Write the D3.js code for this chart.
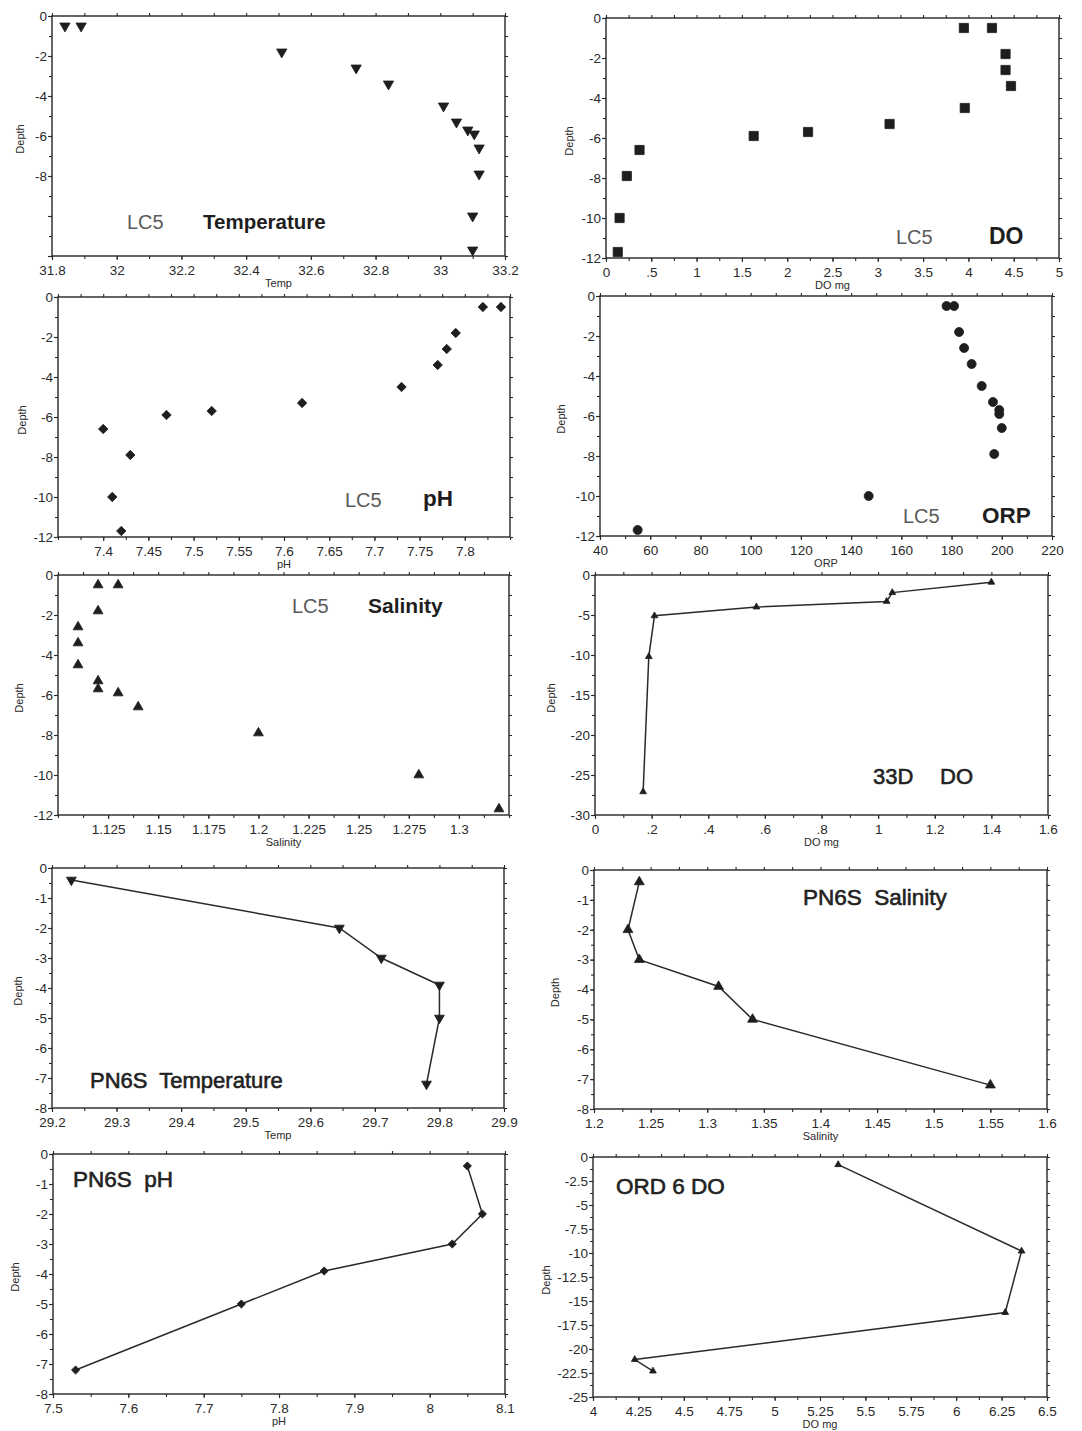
<!DOCTYPE html>
<html>
<head>
<meta charset="utf-8">
<style>
  body { margin: 0; background: #fff; }
  svg { display: block; background: #fff; }
  .tick text { font-family: "Liberation Sans", Arial, sans-serif; font-size: 13.5px; fill: #2a2a2a; }
  .tick line { stroke: #2a2a2a; stroke-width: 1.1; }
  .axis-title { font-family: "Liberation Sans", Arial, sans-serif; font-size: 11px; fill: #2a2a2a; }
  .note { font-family: "Liberation Sans", Arial, sans-serif; white-space: pre; }
</style>
</head>
<body>
<svg id="chart" width="1082" height="1431"></svg>
<script src="https://cdn.jsdelivr.net/npm/d3@7.9.0/dist/d3.min.js"></script>
<script>
// LC5 station, 13 readings at the same depths
const lc5Depth    = [-0.5, -0.5, -1.8, -2.6, -3.4, -4.5, -5.3, -5.7, -5.9, -6.6, -7.9, -10, -11.7];
const lc5Temp     = [31.84, 31.89, 32.51, 32.74, 32.84, 33.01, 33.05, 33.085, 33.105, 33.12, 33.12, 33.1, 33.1];
const lc5DO       = [3.95, 4.26, 4.41, 4.41, 4.47, 3.96, 3.13, 2.23, 1.63, 0.37, 0.23, 0.15, 0.13];
const lc5PH       = [7.82, 7.84, 7.79, 7.78, 7.77, 7.73, 7.62, 7.52, 7.47, 7.40, 7.43, 7.41, 7.42];
const lc5ORP      = [178, 181, 183, 185, 188, 192, 196.5, 199, 199, 200, 197, 147, 55];
const lc5Salinity = [1.12, 1.13, 1.12, 1.11, 1.11, 1.11, 1.12, 1.12, 1.13, 1.14, 1.2, 1.28, 1.32];

// 33D station
const d33Depth = [-0.9, -2.2, -3.3, -4, -5.1, -10.2, -27.1];
const d33DO    = [1.4, 1.05, 1.03, 0.57, 0.21, 0.19, 0.17];

// PN6S station
const pn6sDepth    = [-0.4, -2, -3, -3.9, -5, -7.2];
const pn6sTemp     = [29.23, 29.645, 29.71, 29.8, 29.8, 29.78];
const pn6sSalinity = [1.24, 1.23, 1.24, 1.31, 1.34, 1.55];
const pn6sPH       = [8.05, 8.07, 8.03, 7.86, 7.75, 7.53];

// ORD 6 station
const ord6Depth = [-0.8, -9.8, -16.2, -21.1, -22.3];
const ord6DO    = [5.35, 6.36, 6.27, 4.23, 4.33];

// tick labels
const lc5DepthTicks  = [0, -2, -4, -6, -8, -10, -12];
const lc5TempLabels  = [0, -2, -4, -6, -8];
const pn6sDepthTicks = [0, -1, -2, -3, -4, -5, -6, -7, -8];
const d33DepthTicks  = [0, -5, -10, -15, -20, -25, -30];
const ord6DepthTicks = [0, -2.5, -5, -7.5, -10, -12.5, -15, -17.5, -20, -22.5, -25];
const tempTicks      = [31.8, 32, 32.2, 32.4, 32.6, 32.8, 33, 33.2];
const doTicks        = [0, 0.5, 1, 1.5, 2, 2.5, 3, 3.5, 4, 4.5, 5];
const phTicks        = [7.4, 7.45, 7.5, 7.55, 7.6, 7.65, 7.7, 7.75, 7.8];
const orpTicks       = [40, 60, 80, 100, 120, 140, 160, 180, 200, 220];
const salTicks       = [1.125, 1.15, 1.175, 1.2, 1.225, 1.25, 1.275, 1.3];
const d33DOTicks     = [0, 0.2, 0.4, 0.6, 0.8, 1, 1.2, 1.4, 1.6];
const pnTempTicks    = [29.2, 29.3, 29.4, 29.5, 29.6, 29.7, 29.8, 29.9];
const pnSalTicks     = [1.2, 1.25, 1.3, 1.35, 1.4, 1.45, 1.5, 1.55, 1.6];
const pnPHTicks      = [7.5, 7.6, 7.7, 7.8, 7.9, 8, 8.1];
const ord6DOTicks    = [4, 4.25, 4.5, 4.75, 5, 5.25, 5.5, 5.75, 6, 6.25, 6.5];

const svg = d3.select('#chart');
const zip = (vals, depths) => vals.map((v, i) => ({ v: v, d: depths[i] }));
const steps = (lo, hi, step) => d3.range(lo, hi + step / 2, step);

const panels = [
  { box: { l: 52, r: 505, t: 16, b: 256 }, pts: zip(lc5Temp, lc5Depth),
    xDomain: [31.8, 33.2], xTicks: tempTicks, xMinor: 0.1, xTitle: 'Temp',
    yDomain: [-12, 0], yTicks: lc5DepthTicks, yLabels: lc5TempLabels, yMinor: 1,
    sym: d3.symbolTriangle, size: 46, rot: 180, line: false, depthOff: 28,
    notes: [{ text: 'LC5', x: 127, y: 229, size: 20 }, { text: 'Temperature', x: 203, y: 229, size: 20.5, bold: true }] },
  { box: { l: 606, r: 1059, t: 18, b: 258 }, pts: zip(lc5DO, lc5Depth),
    xDomain: [0, 5], xTicks: doTicks, xMinor: 0.25, xTitle: 'DO mg', dropZero: true,
    yDomain: [-12, 0], yTicks: lc5DepthTicks, yMinor: 1,
    sym: d3.symbolSquare, size: 85, rot: 0, line: false, depthOff: 33,
    notes: [{ text: 'LC5', x: 896, y: 244, size: 20 }, { text: 'DO', x: 989, y: 244, size: 23, bold: true }] },
  { box: { l: 58, r: 510, t: 297, b: 537 }, pts: zip(lc5PH, lc5Depth),
    xDomain: [7.35, 7.85], xTicks: phTicks, xMinor: 0.025, xTitle: 'pH',
    yDomain: [-12, 0], yTicks: lc5DepthTicks, yMinor: 1,
    sym: d3.symbolSquare, size: 44, rot: 45, line: false, depthOff: 32,
    notes: [{ text: 'LC5', x: 345, y: 507, size: 20 }, { text: 'pH', x: 423, y: 506, size: 22.5, bold: true }] },
  { box: { l: 600, r: 1052, t: 296, b: 536 }, pts: zip(lc5ORP, lc5Depth),
    xDomain: [40, 220], xTicks: orpTicks, xMinor: 10, xTitle: 'ORP',
    yDomain: [-12, 0], yTicks: lc5DepthTicks, yMinor: 1,
    sym: d3.symbolCircle, size: 64, rot: 0, line: false, depthOff: 35,
    notes: [{ text: 'LC5', x: 903, y: 523, size: 20 }, { text: 'ORP', x: 982, y: 523, size: 22.5, bold: true }] },
  { box: { l: 58, r: 509, t: 575, b: 815 }, pts: zip(lc5Salinity, lc5Depth),
    xDomain: [1.1, 1.325], xTicks: salTicks, xMinor: 0.0125, xTitle: 'Salinity',
    yDomain: [-12, 0], yTicks: lc5DepthTicks, yMinor: 1,
    sym: d3.symbolTriangle, size: 42, rot: 0, line: false, depthOff: 35,
    notes: [{ text: 'LC5', x: 292, y: 613, size: 20 }, { text: 'Salinity', x: 368, y: 613, size: 21, bold: true }] },
  { box: { l: 595, r: 1048, t: 575, b: 815 }, pts: zip(d33DO, d33Depth),
    xDomain: [0, 1.6], xTicks: d33DOTicks, xMinor: 0.1, xTitle: 'DO mg', dropZero: true,
    yDomain: [-30, 0], yTicks: d33DepthTicks, yMinor: 2.5,
    sym: d3.symbolTriangle, size: 20, rot: 0, line: true, depthOff: 40,
    notes: [{ text: '33D', x: 873, y: 784, size: 22, semi: true }, { text: 'DO', x: 940, y: 784, size: 22, semi: true }] },
  { box: { l: 52, r: 504, t: 868, b: 1108 }, pts: zip(pn6sTemp, pn6sDepth),
    xDomain: [29.2, 29.9], xTicks: pnTempTicks, xMinor: 0.05, xTitle: 'Temp',
    yDomain: [-8, 0], yTicks: pn6sDepthTicks, yMinor: 0.5,
    sym: d3.symbolTriangle, size: 42, rot: 180, line: true, depthOff: 30,
    notes: [{ text: 'PN6S  Temperature', x: 90, y: 1088, size: 22, semi: true }] },
  { box: { l: 594, r: 1047, t: 870, b: 1109 }, pts: zip(pn6sSalinity, pn6sDepth),
    xDomain: [1.2, 1.6], xTicks: pnSalTicks, xMinor: 0.025, xTitle: 'Salinity',
    yDomain: [-8, 0], yTicks: pn6sDepthTicks, yMinor: 0.5,
    sym: d3.symbolTriangle, size: 42, rot: 0, line: true, depthOff: 35,
    notes: [{ text: 'PN6S  Salinity', x: 803, y: 905, size: 22.5, semi: true }] },
  { box: { l: 53, r: 505, t: 1154, b: 1394 }, pts: zip(pn6sPH, pn6sDepth),
    xDomain: [7.5, 8.1], xTicks: pnPHTicks, xMinor: 0.05, xTitle: 'pH',
    yDomain: [-8, 0], yTicks: pn6sDepthTicks, yMinor: 0.5,
    sym: d3.symbolSquare, size: 34, rot: 45, line: true, depthOff: 34,
    notes: [{ text: 'PN6S  pH', x: 73, y: 1187, size: 22.5, semi: true }] },
  { box: { l: 593, r: 1047, t: 1157, b: 1397 }, pts: zip(ord6DO, ord6Depth),
    xDomain: [4, 6.5], xTicks: ord6DOTicks, xMinor: 0.125, xTitle: 'DO mg',
    yDomain: [-25, 0], yTicks: ord6DepthTicks, yMinor: 1.25,
    sym: d3.symbolTriangle, size: 20, rot: 0, line: true, depthOff: 43,
    notes: [{ text: 'ORD 6 DO', x: 616, y: 1194, size: 22.5, semi: true }] },
];

function drawPanel(p) {
  const b = p.box;
  const x = d3.scaleLinear().domain(p.xDomain).range([b.l, b.r]);
  const y = d3.scaleLinear().domain(p.yDomain).range([b.b, b.t]);
  const g = svg.append('g');

  const xFmt = (v) => {
    let s = String(+v.toFixed(4));
    if (p.dropZero) s = s.replace(/^0\./, '.');
    return s;
  };
  const yFmt = (v) => (!p.yLabels || p.yLabels.includes(v)) ? String(+v.toFixed(4)) : '';
  const xMinor = steps(p.xDomain[0], p.xDomain[1], p.xMinor);
  const yMinor = steps(p.yDomain[0], p.yDomain[1], p.yMinor);
  const clean = (ax) => ax.select('.domain').remove();

  // minor ticks on all four sides
  g.append('g').attr('transform', `translate(0,${b.b})`)
    .call(d3.axisBottom(x).tickValues(xMinor).tickSize(3).tickFormat('')).call(clean);
  g.append('g').attr('transform', `translate(0,${b.t})`)
    .call(d3.axisTop(x).tickValues(xMinor).tickSize(3).tickFormat('')).call(clean);
  g.append('g').attr('transform', `translate(${b.l},0)`)
    .call(d3.axisLeft(y).tickValues(yMinor).tickSize(3).tickFormat('')).call(clean);
  g.append('g').attr('transform', `translate(${b.r},0)`)
    .call(d3.axisRight(y).tickValues(yMinor).tickSize(3).tickFormat('')).call(clean);

  // labelled ticks
  g.append('g').attr('transform', `translate(0,${b.b})`)
    .call(d3.axisBottom(x).tickValues(p.xTicks).tickSize(4).tickPadding(5).tickFormat(xFmt)).call(clean);
  g.append('g').attr('transform', `translate(${b.l},0)`)
    .call(d3.axisLeft(y).tickValues(p.yTicks).tickSize(4).tickPadding(1).tickFormat(yFmt)).call(clean);

  g.append('rect')
    .attr('x', b.l).attr('y', b.t)
    .attr('width', b.r - b.l).attr('height', b.b - b.t)
    .attr('fill', 'none').attr('stroke', '#262626').attr('stroke-width', 1.4);

  g.append('text').attr('class', 'axis-title')
    .attr('x', (b.l + b.r) / 2).attr('y', b.b + 31)
    .attr('text-anchor', 'middle').text(p.xTitle);
  g.append('text').attr('class', 'axis-title')
    .attr('transform', `translate(${b.l - p.depthOff},${(b.t + b.b) / 2 + 3}) rotate(-90)`)
    .attr('text-anchor', 'middle').text('Depth');

  if (p.line) {
    g.append('path')
      .datum(p.pts)
      .attr('fill', 'none').attr('stroke', '#2a2a2a').attr('stroke-width', 1.5)
      .attr('d', d3.line().x((d) => x(d.v)).y((d) => y(d.d)));
  }

  g.selectAll('path.mark')
    .data(p.pts)
    .join('path')
    .attr('class', 'mark')
    .attr('d', d3.symbol().type(p.sym).size(p.size))
    .attr('transform', (d) => `translate(${x(d.v)},${y(d.d)}) rotate(${p.rot})`)
    .attr('fill', '#1e1e1e')
    .attr('stroke', '#1e1e1e').attr('stroke-width', 0.8);

  p.notes.forEach((n) => {
    const t = g.append('text').attr('class', 'note')
      .attr('x', n.x).attr('y', n.y)
      .attr('font-size', n.size)
      .text(n.text);
    if (n.bold) {
      t.attr('font-weight', 'bold').attr('fill', '#1e1e1e');
    } else if (n.semi) {
      t.attr('fill', '#222').attr('stroke', '#222').attr('stroke-width', 0.6);
    } else {
      t.attr('fill', '#5a5a5a');
    }
  });
}

panels.forEach(drawPanel);
</script>
</body>
</html>
